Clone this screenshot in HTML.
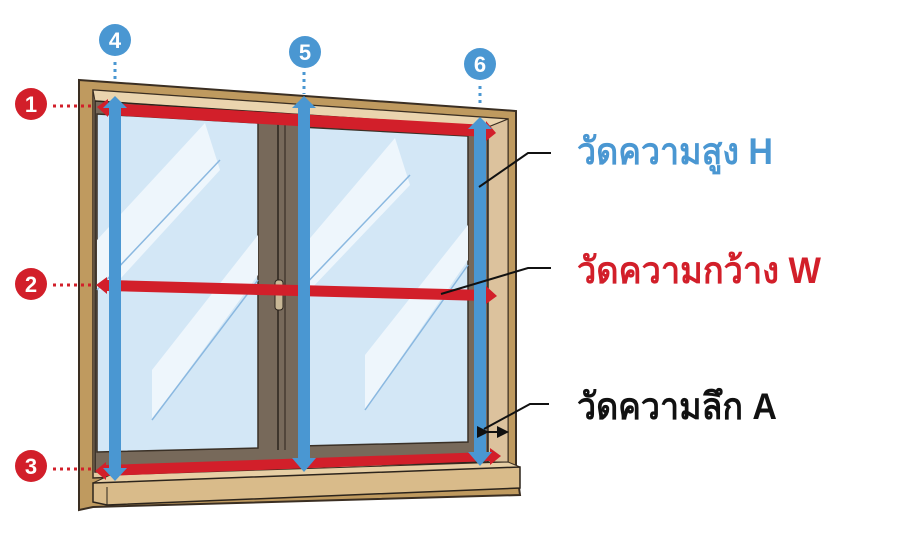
<!DOCTYPE html>
<html><head><meta charset="utf-8"><style>
html,body{margin:0;padding:0;background:#fff;}
svg{display:block;}
text{font-family:"Liberation Sans","Noto Sans CJK SC",sans-serif;}
</style></head><body>
<svg width="902" height="534" viewBox="0 0 902 534" xmlns="http://www.w3.org/2000/svg">
<defs>
<marker id="ah" markerWidth="6" markerHeight="6" refX="3" refY="3" orient="auto"><path d="M0,0 L6,3 L0,6 z" fill="#111"/></marker>
</defs>
<polygon points="79,80 516,111 516,465 520,495 93,507 79,510" fill="#bf9a5f" stroke="#3a2e22" stroke-width="2"/>
<polygon points="93,90 508,119 508,462 93,478" fill="#e2c9a0" stroke="#3a2e22" stroke-width="1.5"/>
<polygon points="488,127 508,119 508,462 488,462" fill="#dcc29d" stroke="#3a2e22" stroke-width="1"/>
<polygon points="93,90 508,119 488,127 95,101" fill="#ead4ae" stroke="#3a2e22" stroke-width="1"/>
<polygon points="95,101 488,127 488,462 95,472" fill="#77695a" stroke="#2c241c" stroke-width="1.5"/>
<polygon points="97,114 258,123 258,448 97,452" fill="#d3e7f6" stroke="#3a3026" stroke-width="1.5"/>
<polygon points="300,127 468,136 468,442 300,446" fill="#d3e7f6" stroke="#3a3026" stroke-width="1.5"/>
<line x1="278" y1="124" x2="278" y2="450" stroke="#2c241c" stroke-width="1.5"/>
<line x1="285" y1="124" x2="285" y2="450" stroke="#2c241c" stroke-width="1"/>
<rect x="275" y="280" width="8" height="30" rx="3" fill="#c9b896" stroke="#2c241c"/>
<polygon points="205,123 220,170 110,290 97,290 97,240" fill="#eef6fc"/>
<line x1="97" y1="290" x2="220" y2="160" stroke="#8ab8e0" stroke-width="1.5"/>
<polygon points="258,235 258,275 152,420 152,370" fill="#eef6fc"/>
<line x1="152" y1="420" x2="258" y2="280" stroke="#8ab8e0" stroke-width="1.5"/>
<polygon points="395,138 410,185 310,290 300,290 300,250" fill="#eef6fc"/>
<line x1="300" y1="290" x2="410" y2="175" stroke="#8ab8e0" stroke-width="1.5"/>
<polygon points="468,225 468,260 365,410 365,355" fill="#eef6fc"/>
<line x1="365" y1="410" x2="468" y2="265" stroke="#8ab8e0" stroke-width="1.5"/>
<polygon points="93,483 110,475 508,462 520,467 93,487" fill="#e7cfa5" stroke="#3a2e22" stroke-width="1"/>
<polygon points="93,483 520,467 520,488 107,505 93,502" fill="#d9bb8a" stroke="#2c241c" stroke-width="1.5"/>
<line x1="107" y1="487" x2="107" y2="505" stroke="#2c241c" stroke-width="1"/>
<g fill="#d21f2a">
<polygon points="97,107 108,99 108,103 486,125 486,121 496,133 486,141 486,137 108,115 108,117"/>
<polygon points="96,285 107,277 107,280 486,290 486,286 497,296 486,304 486,301 107,291 107,294"/>
<polygon points="95,471 106,462 106,465 490,452 490,448 501,456 490,465 490,461 106,476 106,480"/>
</g>
<g fill="#4a97d2">
<polygon points="115,96 127,108 121,108 121,468 127,468 115,481 103,468 109,468 109,108 103,108"/>
<polygon points="304,96 316,108 310,108 310,458 316,458 304,472 292,458 298,458 298,108 292,108"/>
<polygon points="480,117 492,129 486,129 486,452 492,452 480,466 468,452 474,452 474,129 468,129"/>
</g>
<g stroke-dasharray="3,4" stroke-width="3">
<line x1="53" y1="106" x2="94" y2="106" stroke="#d21f2a"/>
<line x1="53" y1="285" x2="94" y2="285" stroke="#d21f2a"/>
<line x1="53" y1="469" x2="94" y2="469" stroke="#d21f2a"/>
<line x1="115" y1="62" x2="115" y2="80" stroke="#4a97d2"/>
<line x1="304" y1="72" x2="304" y2="94" stroke="#4a97d2"/>
<line x1="480" y1="86" x2="480" y2="106" stroke="#4a97d2"/>
</g>
<g font-weight="bold" font-size="22" text-anchor="middle" fill="#fff">
<circle cx="31" cy="104" r="16" fill="#d21f2a"/><text x="31" y="112">1</text>
<circle cx="31" cy="284" r="16" fill="#d21f2a"/><text x="31" y="292">2</text>
<circle cx="31" cy="466" r="16" fill="#d21f2a"/><text x="31" y="474">3</text>
<circle cx="115" cy="40" r="16" fill="#4a97d2"/><text x="115" y="48">4</text>
<circle cx="305" cy="52" r="16" fill="#4a97d2"/><text x="305" y="60">5</text>
<circle cx="480" cy="64" r="16" fill="#4a97d2"/><text x="480" y="72">6</text>
</g>
<g stroke="#111" stroke-width="2" fill="none">
<polyline points="551,153 528,153 479,187"/>
<polyline points="551,268 528,268 441,294"/>
<polyline points="549,404 530,404 484,429"/>
</g>
<line x1="483" y1="432" x2="503" y2="432" stroke="#111" stroke-width="2" marker-start="url(#ah)" marker-end="url(#ah)"/>
<text x="577" y="164" font-size="37" font-weight="bold" fill="#4a97d2" textLength="196" lengthAdjust="spacingAndGlyphs">วัดความสูง H</text>
<text x="577" y="283" font-size="37" font-weight="bold" fill="#d21f2a" textLength="244" lengthAdjust="spacingAndGlyphs">วัดความกว้าง W</text>
<text x="577" y="419" font-size="37" font-weight="bold" fill="#111" textLength="200" lengthAdjust="spacingAndGlyphs">วัดความลึก A</text>
</svg>
</body></html>
